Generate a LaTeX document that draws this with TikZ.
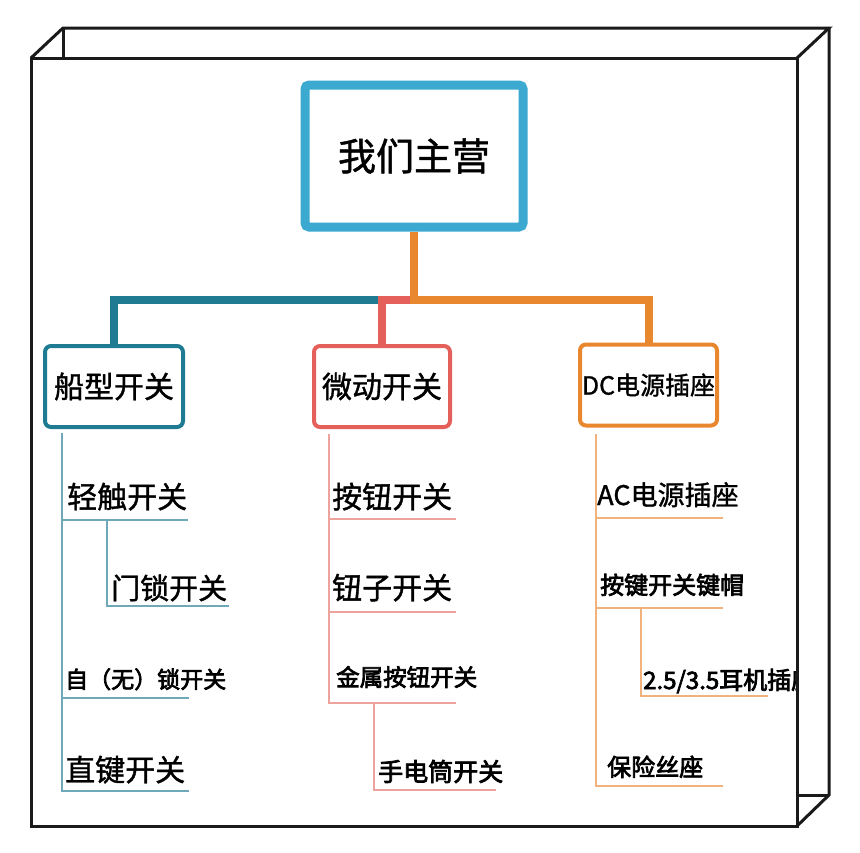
\documentclass[tikz,border=0pt]{standalone}
\usepackage{fontspec}
\setmainfont{Noto Sans CJK SC}[FakeBold=1.2]
\newfontfamily\heavier{Noto Sans CJK SC}[FakeBold=3]
\definecolor{cblue}{HTML}{3BA9D0}
\definecolor{cteal}{HTML}{1E7B91}
\definecolor{cred}{HTML}{E5605A}
\definecolor{corange}{HTML}{E9872F}
\definecolor{lteal}{HTML}{6FA9B9}
\definecolor{lred}{HTML}{ECA39D}
\definecolor{lorange}{HTML}{F2B27C}
\definecolor{frameink}{HTML}{1A1A1A}
\tikzset{
  frameline/.style={draw=frameink, line width=3pt, line join=miter},
  topbox/.style={draw=cblue, line width=9pt, rounded corners=4pt, minimum width=218pt, minimum height=142pt, inner sep=0pt, font=\fontsize{38}{40}\selectfont},
  catbox/.style={line width=4pt, rounded corners=6pt, minimum width=138pt, minimum height=81pt, inner sep=0pt},
  bus/.style={line width=8pt},
  leaf/.style={anchor=base west, inner sep=0pt},
  twig/.style={line width=2.8pt},
}
\begin{document}
\begin{tikzpicture}[x=1pt,y=-1pt]
\useasboundingbox (0,0) rectangle (860,852);
\fill[white] (0,0) rectangle (860,852);

% main boxes
\node[topbox] (top) at (414,156) {我们主营};
\node[catbox, draw=cteal, font=\fontsize{30}{32}\selectfont] (b1) at (114,386.5) {船型开关};
\node[catbox, draw=cred, minimum width=136pt, font=\fontsize{30}{32}\selectfont] (b2) at (382,386.5) {微动开关};
\node[catbox, draw=corange, minimum width=137pt, font=\fontsize{25}{27}\selectfont] (b3) at (648.5,385) {DC电源插座};

% bus
\coordinate (bus) at (414,300);
\draw[bus, cteal] (b1.north) |- (bus);
\draw[bus, cred] (b2.north) |- (bus);
\draw[bus, corange] (top.south) -- (bus) -| (b3.north);

% column 1
\coordinate (s1) at (62,433);
\coordinate (u1) at (188,520);
\coordinate (s1b) at (107,520);
\coordinate (u2) at (229,606);
\coordinate (u3) at (189,698);
\coordinate (u4) at (189,791);
\draw[twig, lteal] (s1) |- (u1);
\draw[twig, lteal] (s1) |- (u3);
\draw[twig, lteal] (s1) |- (u4);
\draw[twig, lteal] (s1b) |- (u2);
\node[leaf, font=\fontsize{30}{32}\selectfont] (t1) at (67,508) {轻触开关};
\node[leaf, font=\fontsize{29}{31}\selectfont] (t2) at (111,599) {门锁开关};
\node[leaf, font=\fontsize{23}{25}\heavier] (t3) at (65,688) {自（无）锁开关};
\node[leaf, font=\fontsize{30}{32}\selectfont] (t4) at (65,781) {直键开关};

% column 2
\coordinate (s2) at (329,434);
\coordinate (u5) at (456,519);
\coordinate (u6) at (456,612);
\coordinate (u7) at (456,703);
\coordinate (s2b) at (374,703);
\coordinate (u8) at (496,790);
\draw[twig, lred] (s2) |- (u5);
\draw[twig, lred] (s2) |- (u6);
\draw[twig, lred] (s2) |- (u7);
\draw[twig, lred] (s2b) |- (u8);
\node[leaf, font=\fontsize{30}{32}\selectfont] (t5) at (332,508) {按钮开关};
\node[leaf, font=\fontsize{30}{32}\selectfont] (t6) at (332,599) {钮子开关};
\node[leaf, font=\fontsize{23.5}{25}\heavier] (t7) at (336,686) {金属按钮开关};
\node[leaf, font=\fontsize{25}{27}\heavier] (t8) at (378,781) {手电筒开关};

% column 3
\coordinate (s3) at (596,434);
\coordinate (u9) at (723,518);
\coordinate (u10) at (723,608);
\coordinate (s3b) at (641,608);
\coordinate (u11) at (768,696);
\coordinate (u12) at (723,786);
\draw[twig, lorange] (s3) |- (u9);
\draw[twig, lorange] (s3) |- (u10);
\draw[twig, lorange] (s3) |- (u12);
\draw[twig, lorange] (s3b) |- (u11);
\node[leaf, font=\fontsize{27}{29}\selectfont] (t9) at (597,505) {AC电源插座};
\node[leaf, font=\fontsize{24}{26}\heavier] (t10) at (600,594) {按键开关键帽};
\node[leaf, font=\fontsize{24}{26}\heavier] (t11) at (643,689) {2.5/3.5耳机插座};
\node[leaf, font=\fontsize{24}{26}\heavier] (t12) at (607,776) {保险丝座};

% 3D frame
\fill[white] (797,58) -- (829,28) -- (829,795) -- (797,826) -- cycle;
\draw[frameline] (31,58) rectangle (797,826);
\draw[frameline] (31,58) -- (63,28) -- (829,28) -- (797,58);
\draw[frameline] (63,28) -- (63,58);
\draw[frameline] (829,28) -- (829,795) -- (797,826);
\draw[frameline] (797,795) -- (829,795);
\end{tikzpicture}
\end{document}
